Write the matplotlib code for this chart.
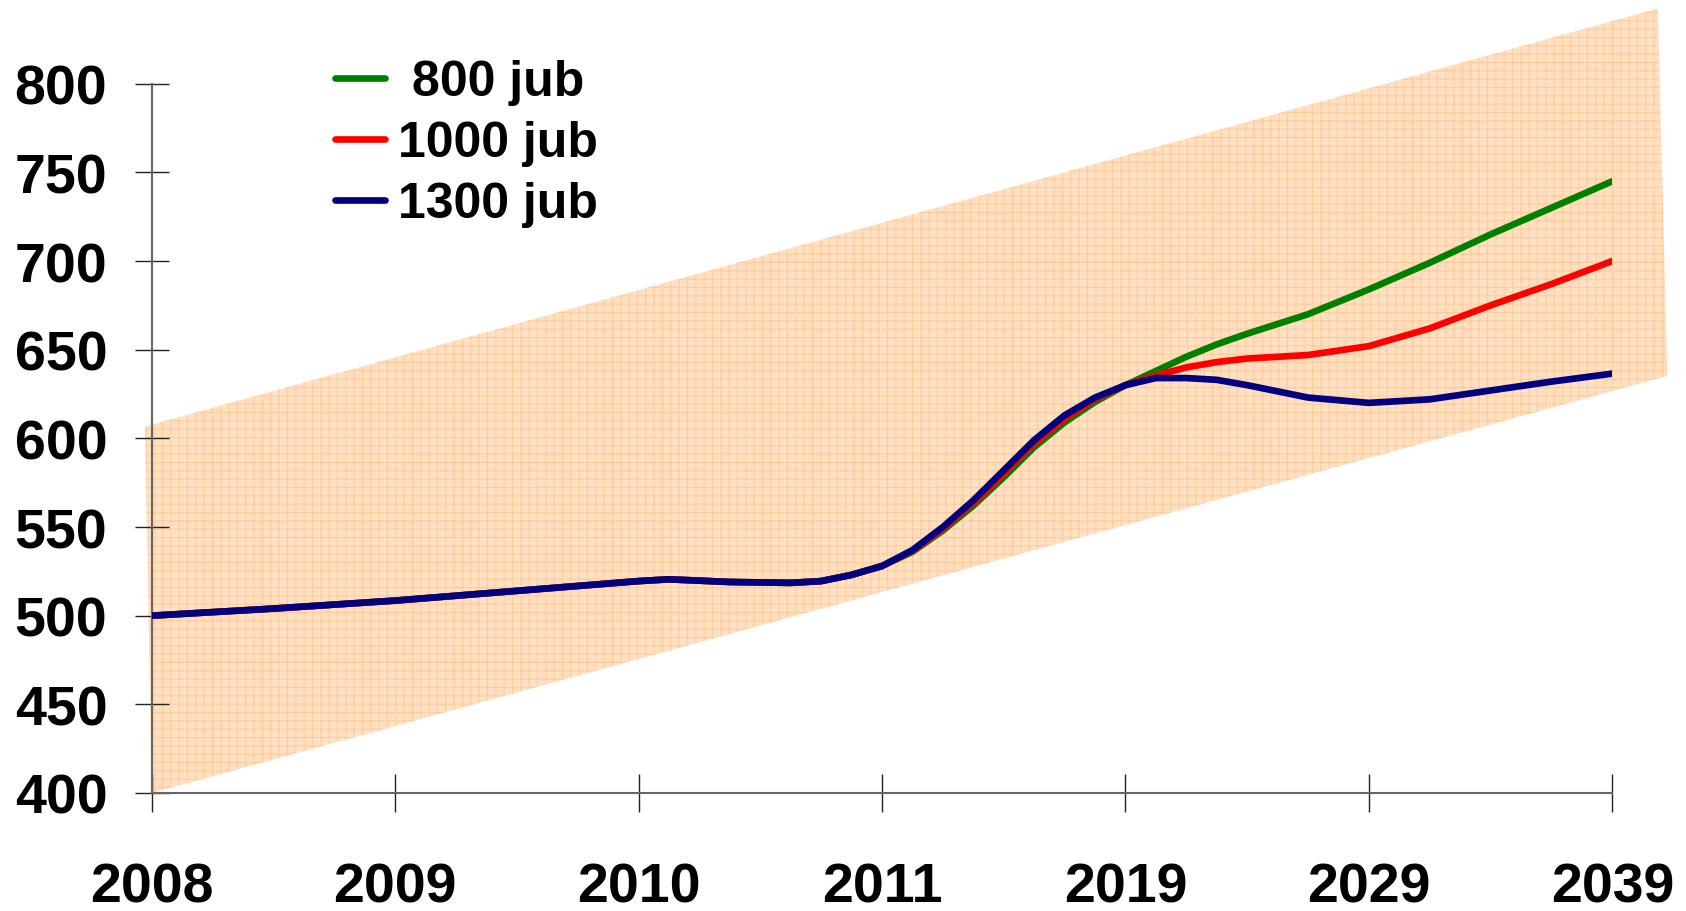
import matplotlib
matplotlib.use("Agg")
import matplotlib.pyplot as plt

# categorias do eixo x (posicoes igualmente espacadas)
anos = ["2008", "2009", "2010", "2011", "2019", "2029", "2039"]

# posicoes (em unidades de categoria) dos pontos das linhas
pos_comum = [0, 0.5, 1, 1.5, 2, 2.125, 2.375, 2.625, 2.75, 2.875, 3, 3.125,
             3.25, 3.375, 3.5, 3.625, 3.75, 3.875, 4]
pos_fim = [4, 4.125, 4.25, 4.375, 4.5, 4.75, 5, 5.25, 5.5, 5.75, 6]

# trecho comum (ate 2019) de cada cenario
comum_1300 = [500, 504, 508.5, 514, 519.5, 520.5, 519, 518.5, 519.5, 523, 528,
              537, 550, 565, 582, 599, 613, 623, 630]
comum_1000 = [500, 504, 508.5, 514, 519.5, 520.5, 519, 518.5, 519.5, 523, 528,
              536.5, 549, 563.5, 580, 597, 611, 622, 630]
comum_800 = [500, 504, 508.5, 514, 519.5, 520.5, 519, 518.5, 519.5, 523, 528,
             536, 548, 562, 578, 595, 609, 620.5, 630]

# projecoes depois de 2019
fim_800 = [630, 638, 646, 653, 659, 670, 684, 699, 715, 730, 745]
fim_1000 = [630, 635.5, 640, 643, 645, 647, 652, 662, 675, 687, 700]
fim_1300 = [630, 634, 634, 633, 630, 623, 620, 622, 627, 632, 636.5]

# faixa laranja (cantos do paralelogramo)
faixa_x = [-0.027, 6.187, 6.226, 0.0]
faixa_y = [606.7, 842.4, 635.2, 400]

fig = plt.figure(figsize=(16.86, 9.12), dpi=100)
ax = fig.add_axes([151.7 / 1686, 118 / 912, 1460.6 / 1686, 709.3 / 912])
ax.set_facecolor("none")

plt.rcParams["hatch.linewidth"] = 0.8
ax.fill(faixa_x, faixa_y, facecolor="#FFE0C2", edgecolor="#FFCC99",
        hatch="++", linewidth=0, clip_on=False, zorder=0.5)

ax.plot(pos_comum + pos_fim[1:], comum_800 + fim_800[1:], color="#008000",
        lw=4.8, label=" 800 jub", zorder=3, solid_capstyle="round")
ax.plot(pos_comum + pos_fim[1:], comum_1000 + fim_1000[1:], color="#FF0000",
        lw=4.8, label="1000 jub", zorder=4, solid_capstyle="round")
ax.plot(pos_comum + pos_fim[1:], comum_1300 + fim_1300[1:], color="#000080",
        lw=4.8, label="1300 jub", zorder=5, solid_capstyle="round")

ax.set_xlim(0, 6)
ax.set_ylim(400, 800)
ax.set_xticks(range(len(anos)))
ax.set_xticklabels(anos)
ax.set_yticks(range(400, 801, 50))

for s in ["top", "right"]:
    ax.spines[s].set_visible(False)
for s in ["left", "bottom"]:
    ax.spines[s].set_color("#666666")
    ax.spines[s].set_linewidth(1.5)

fonte = {"family": "Liberation Sans", "weight": "bold", "size": 40}
ax.tick_params(axis="x", direction="inout", length=27, width=1, color="#222222", pad=36)
ax.tick_params(axis="y", direction="inout", length=24, width=1, color="#222222", pad=20)
for label in ax.get_xticklabels() + ax.get_yticklabels():
    label.set_fontproperties(fonte)
    label.set_fontsize(40)

# Configura legenda
legend = fig.legend(loc="upper left", bbox_to_anchor=(335 / 1686, 1 - 60 / 912),
                    frameon=False, borderpad=0, borderaxespad=0,
                    handlelength=1.0, handletextpad=0.26, labelspacing=0.3,
                    prop={"family": "Liberation Sans", "weight": "bold", "size": 36})
for line in legend.get_lines():
    line.set_linewidth(4.8)

plt.savefig("out.png", dpi=100)
